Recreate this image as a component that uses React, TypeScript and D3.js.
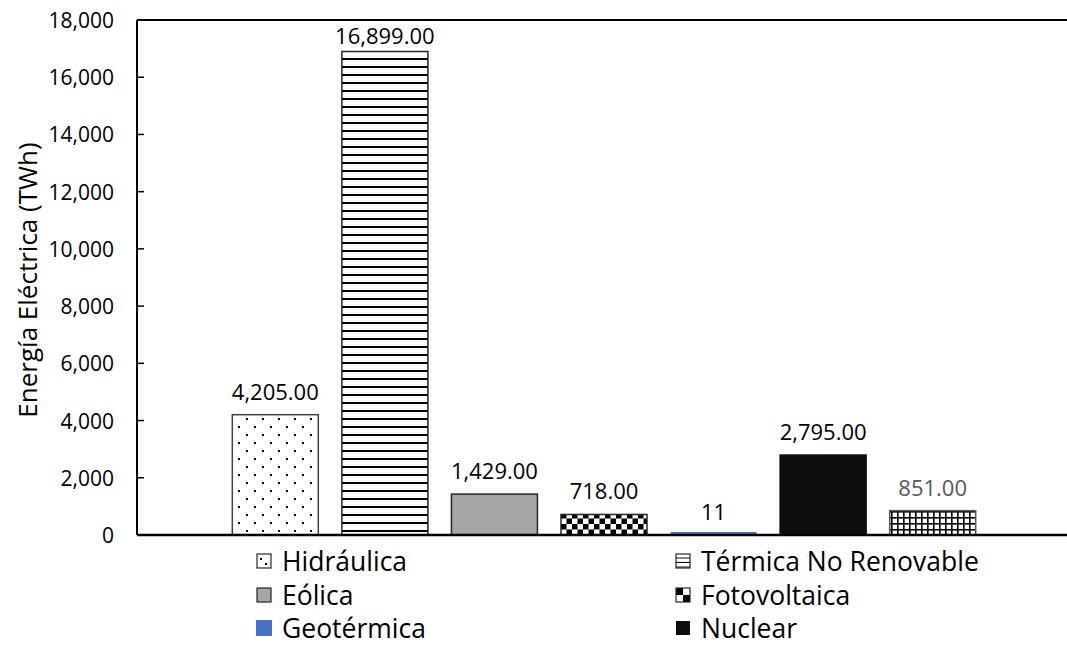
import React from "react";
import * as d3 from "d3";

// Generation by source (TWh)
const sources = [
  "Hidráulica",
  "Térmica No Renovable",
  "Eólica",
  "Fotovoltaica",
  "Geotérmica",
  "Nuclear",
  "Otras",
];
const values = [4205, 16899, 1429, 718, 11, 2795, 851];
const valueLabels = ["4,205.00", "16,899.00", "1,429.00", "718.00", "11", "2,795.00", "851.00"];
const yTicks = [0, 2000, 4000, 6000, 8000, 10000, 12000, 14000, 16000, 18000];
const legendSources = ["Hidráulica", "Térmica No Renovable", "Eólica", "Fotovoltaica", "Geotérmica", "Nuclear"];

const W = 1067;
const H = 646;
const plotLeft = 137;
const plotRight = 1071;
const plotTop = 20;
const plotBottom = 535;
const FONT = "'Open Sans', 'Noto Sans', sans-serif";

const fills: Record<string, string> = {
  "Hidráulica": "url(#pDots)",
  "Térmica No Renovable": "url(#pHLines)",
  "Eólica": "#a6a6a6",
  "Fotovoltaica": "url(#pChecker)",
  "Geotérmica": "#4472c4",
  "Nuclear": "#0d0d0d",
  "Otras": "url(#pGrid)",
};
const strokes: Record<string, string> = {
  "Hidráulica": "#404040",
  "Térmica No Renovable": "#262626",
  "Eólica": "#262626",
  "Fotovoltaica": "#262626",
  "Geotérmica": "#4472c4",
  "Nuclear": "#0d0d0d",
  "Otras": "#595959",
};
const legendFills: Record<string, string> = {
  "Hidráulica": "url(#lDots)",
  "Térmica No Renovable": "url(#lHLines)",
  "Eólica": "#a6a6a6",
  "Fotovoltaica": "url(#lChecker)",
  "Geotérmica": "#4472c4",
  "Nuclear": "#0d0d0d",
};

export default function App() {
  const x = d3
    .scaleBand<string>()
    .domain(sources)
    .range([plotLeft, plotRight])
    .paddingInner(0.215)
    .paddingOuter(0.87);
  const y = d3.scaleLinear().domain([0, 18000]).range([plotBottom, plotTop]);
  const fmt = d3.format(",");

  const legendRows = [561, 595, 628];
  const legendCols = [257, 676];

  return (
    <svg width={W} height={H} style={{ position: "absolute", left: 0, top: 0, background: "#fff" }}>
      <defs>
        <pattern id="pDots" width={16} height={16} patternUnits="userSpaceOnUse" x={plotLeft} y={plotBottom}>
          <rect width={16} height={16} fill="#fff" />
          <rect x={5} y={3} width={2} height={2} fill="#000" />
          <rect x={13} y={11} width={2} height={2} fill="#000" />
        </pattern>
        <pattern id="pHLines" width={8} height={8} patternUnits="userSpaceOnUse" x={0} y={plotBottom}>
          <rect width={8} height={8} fill="#fff" />
          <rect y={3} width={8} height={2} fill="#000" />
        </pattern>
        <pattern id="pChecker" width={11} height={11} patternUnits="userSpaceOnUse" x={561} y={plotBottom}>
          <rect width={11} height={11} fill="#fff" />
          <rect width={5.5} height={5.5} fill="#000" />
          <rect x={5.5} y={5.5} width={5.5} height={5.5} fill="#000" />
        </pattern>
        <pattern id="pGrid" width={6} height={6} patternUnits="userSpaceOnUse" x={891} y={plotBottom}>
          <rect width={6} height={6} fill="#fff" />
          <rect x={0} width={1.6} height={6} fill="#000" />
          <rect y={0} width={6} height={1.6} fill="#000" />
        </pattern>
        <pattern id="lDots" width={14} height={14} patternUnits="userSpaceOnUse" x={257} y={554}>
          <rect width={14} height={14} fill="#fff" />
          <rect x={3} y={4} width={2} height={2} fill="#000" />
          <rect x={8} y={9} width={2} height={2} fill="#000" />
        </pattern>
        <pattern id="lHLines" width={14} height={4.5} patternUnits="userSpaceOnUse" x={676} y={554}>
          <rect width={14} height={4.5} fill="#fff" />
          <rect y={3.5} width={14} height={1.5} fill="#000" />
        </pattern>
        <pattern id="lChecker" width={14} height={14} patternUnits="userSpaceOnUse" x={676} y={588}>
          <rect width={14} height={14} fill="#fff" />
          <rect width={7} height={7} fill="#000" />
          <rect x={7} y={7} width={7} height={7} fill="#000" />
        </pattern>
      </defs>

      {/* frame lines */}
      <line x1={plotLeft} x2={W} y1={plotTop} y2={plotTop} stroke="#000" strokeWidth={2} />
      <line x1={plotLeft} x2={plotLeft} y1={plotTop} y2={plotBottom} stroke="#000" strokeWidth={2} />

      {/* y ticks */}
      {yTicks.map((t) => (
        <g key={t}>
          <line x1={plotLeft} x2={plotLeft + 7} y1={y(t)} y2={y(t)} stroke="#000" strokeWidth={1.5} />
          <text
            x={114}
            y={y(t)}
            textAnchor="end"
            dominantBaseline="central"
            fontFamily={FONT}
            fontSize={21}
            fill="#000"
          >
            {fmt(t)}
          </text>
        </g>
      ))}

      <text
        transform={`translate(27,280) rotate(-90)`}
        textAnchor="middle"
        dominantBaseline="central"
        fontFamily={FONT}
        fontSize={26}
        fill="#000"
      >
        Energía Eléctrica (TWh)
      </text>

      {/* bars */}
      {sources.map((s, i) => {
        const x0 = x(s) as number;
        const top = y(values[i]);
        const h = Math.max(plotBottom - top, 0);
        if (s === "Geotérmica") {
          return (
            <rect key={s} x={x0} y={plotBottom - 3} width={x.bandwidth()} height={3} fill="#4472c4" />
          );
        }
        return (
          <rect
            key={s}
            x={x0}
            y={top}
            width={x.bandwidth()}
            height={h}
            fill={fills[s]}
            stroke={strokes[s]}
            strokeWidth={1.5}
          />
        );
      })}

      {/* value labels, kept inside the plot frame */}
      {sources.map((s, i) => (
        <text
          key={s + "-lbl"}
          x={(x(s) as number) + x.bandwidth() / 2}
          y={Math.max(y(values[i]) - 24, plotTop + 15)}
          textAnchor="middle"
          dominantBaseline="central"
          fontFamily={FONT}
          fontSize={22}
          fill={s === "Otras" ? "#595959" : "#000"}
        >
          {valueLabels[i]}
        </text>
      ))}

      {/* x axis */}
      <line x1={plotLeft} x2={W} y1={plotBottom} y2={plotBottom} stroke="#000" strokeWidth={2.5} />

      {/* legend */}
      {legendSources.map((s, i) => {
        const col = i % 2;
        const row = Math.floor(i / 2);
        const cx = legendCols[col];
        const cy = legendRows[row];
        const solid = s === "Geotérmica" || s === "Nuclear";
        const sz = s === "Geotérmica" ? 16 : 14;
        return (
          <g key={s + "-leg"}>
            <rect
              x={cx - (sz - 14) / 2}
              y={cy - sz / 2}
              width={sz}
              height={sz}
              fill={legendFills[s]}
              stroke="#262626"
              strokeWidth={solid ? 0 : 1.2}
            />
            <text
              x={cx + 25}
              y={cy}
              dominantBaseline="central"
              fontFamily={FONT}
              fontSize={26.5}
              fill="#000"
            >
              {s}
            </text>
          </g>
        );
      })}
    </svg>
  );
}
